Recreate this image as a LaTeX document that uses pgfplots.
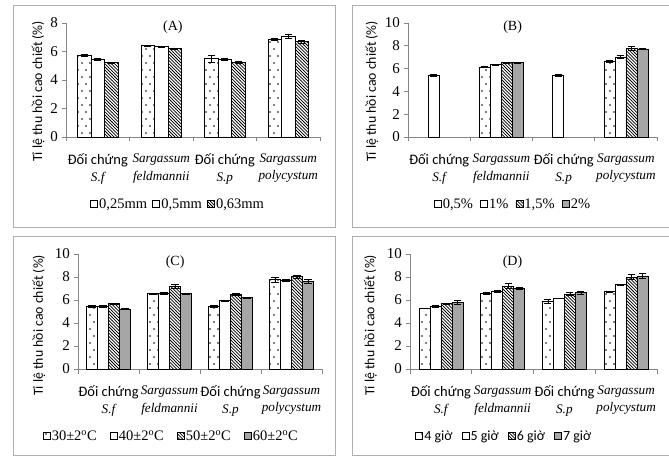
\documentclass[border=0pt]{standalone}
\usepackage{fontspec}
\setmainfont{Liberation Serif}
\newfontfamily\carl{Carlito}
\usepackage{pgfplots}
\pgfplotsset{compat=1.18}
\usetikzlibrary{patterns}

\definecolor{axgray}{RGB}{134,134,134}
\definecolor{bargray}{RGB}{166,166,166}
\definecolor{framegray}{RGB}{175,175,175}

\pgfdeclarepatternformonly{sdots}{\pgfqpoint{-1pt}{-1pt}}{\pgfqpoint{9pt}{15pt}}{\pgfqpoint{8pt}{14pt}}{%
 \pgfpathcircle{\pgfqpoint{2pt}{3pt}}{0.85pt}\pgfpathcircle{\pgfqpoint{6pt}{10pt}}{0.85pt}\pgfusepath{fill}}
\pgfdeclarepatternformonly{hatch}{\pgfqpoint{-1pt}{-1pt}}{\pgfqpoint{4.2pt}{4.2pt}}{\pgfqpoint{3.2pt}{3.2pt}}{%
 \pgfsetlinewidth{0.75pt}\pgfpathmoveto{\pgfqpoint{0pt}{3.2pt}}\pgfpathlineto{\pgfqpoint{3.3pt}{-0.1pt}}\pgfusepath{stroke}}

\newcommand\numf{\fontsize{15}{17}\selectfont}
\newcommand\legf{\fontsize{14.5}{17}\selectfont}
\newcommand\catsf{\carl\fontsize{14.5}{17}\selectfont}
\newcommand\legsf{\carl\fontsize{14}{16}\selectfont}
\newcommand\catit{\itshape\fontsize{13.2}{16}\selectfont}
\newcommand\ylf{\carl\fontsize{13.8}{16}\selectfont}
\newcommand\ttl{\fontsize{14}{16}\selectfont}
\newcommand\degsup{\textsuperscript{o}}

\pgfplotsset{
 panel/.style={
  scale only axis, anchor=south west, clip=false,
  axis lines*=left, xmin=-0.5, xmax=3.5, ymin=0,
  xtick={-0.5,0.5,1.5,2.5,3.5}, xticklabels={},
  major tick length=4.5pt, tick align=outside,
  axis line style={draw=axgray, line width=0.7pt},
  every tick/.style={draw=axgray, line width=0.7pt},
  yticklabel style={font=\numf},
  /pgf/number format/assume math mode=true,
  extra x ticks={0,1,2,3},
  extra x tick labels={{\catsf Đối chứng\\[5pt]\catit S.f},{\catit Sargassum\\[5pt]\catit feldmannii},{\catsf Đối chứng\\[5pt]\catit S.p},{\catit Sargassum\\[5pt]\catit polycystum}},
  extra x tick style={major tick length=0pt, tick label style={align=center, yshift=-13pt}},
  ybar=0pt,
  ylabel={Tỉ lệ thu hồi cao chiết (\%)},
  ylabel style={font=\ylf},
  error bars/y dir=both, error bars/y explicit,
  error bars/error bar style={black, line width=0.6pt},
  error bars/error mark options={rotate=90, black, mark size=3.6pt, line width=0.6pt},
  legend image code/.code={\draw[#1] (0pt,-3.5pt) rectangle (7pt,3.5pt);},
  legend style={draw=none, fill=none, legend columns=-1, anchor=center,
    /tikz/every even column/.append style={column sep=4pt}, nodes={inner sep=1.2pt}},
 },
 s1/.style={draw=black, line width=0.7pt, pattern=sdots},
 s2/.style={draw=black, line width=0.7pt, fill=white},
 s3/.style={draw=black, line width=0.7pt, pattern=hatch},
 s4/.style={draw=black, line width=0.7pt, fill=bargray},
}

\begin{document}
\begin{tikzpicture}
\useasboundingbox (0,0) rectangle (669pt,458pt);
\draw[framegray, line width=0.8pt] (13pt,231pt) rectangle (335pt,453pt);
\draw[framegray, line width=0.8pt] (352pt,231pt) rectangle (674pt,453pt);
\draw[framegray, line width=0.8pt] (13pt,3pt) rectangle (335pt,222pt);
\draw[framegray, line width=0.8pt] (352pt,3pt) rectangle (674pt,222pt);

% ---------------- (A)
\begin{axis}[panel, at={(66pt,321pt)}, width=254pt, height=114pt,
  ymax=8, ytick={0,2,4,6,8}, bar width=13.5pt,
  ylabel style={at={(axis description cs:-0.11,0.40)}, anchor=center},
  legend style={at={(0.44,-0.588)}, font=\legf}]
\addplot[s1] coordinates {(0,5.72) +- (0,0.05) (1,6.42) +- (0,0.04) (2,5.50) +- (0,0.25) (3,6.85) +- (0,0.08)};
\addlegendentry{0,25mm}
\addplot[s2] coordinates {(0,5.45) +- (0,0.08) (1,6.35) +- (0,0.04) (2,5.45) +- (0,0.08) (3,7.08) +- (0,0.15)};
\addlegendentry{0,5mm}
\addplot[s3] coordinates {(0,5.23) +- (0,0.04) (1,6.21) +- (0,0.03) (2,5.23) +- (0,0.06) (3,6.70) +- (0,0.10)};
\addlegendentry{0,63mm}
\node[font=\ttl] at (axis description cs:0.421,0.96) {(A)};
\end{axis}

% ---------------- (B)
\begin{axis}[panel, at={(408pt,321pt)}, width=249pt, height=114pt,
  ymax=10, ytick={0,2,4,6,8,10}, bar width=11pt,
  ylabel style={at={(axis description cs:-0.145,0.40)}, anchor=center},
  legend style={at={(0.42,-0.588)}, font=\legf, /tikz/every even column/.append style={column sep=6pt}}]
\addplot[s1] coordinates {(1,6.12) +- (0,0.04) (3,6.65) +- (0,0.12)};
\addlegendentry{0,5\%}
\addplot[s2] coordinates {(0,5.43) +- (0,0.10) (1,6.33) +- (0,0.04) (2,5.43) +- (0,0.08) (3,7.03) +- (0,0.15)};
\addlegendentry{1\%}
\addplot[s3] coordinates {(1,6.52) +- (0,0.03) (3,7.77) +- (0,0.20)};
\addlegendentry{1,5\%}
\addplot[s4] coordinates {(1,6.52) +- (0,0.04) (3,7.73) +- (0,0.06)};
\addlegendentry{2\%}
\node[font=\ttl] at (axis description cs:0.42,0.96) {(B)};
\end{axis}

% ---------------- (C)
\begin{axis}[panel, at={(78pt,89pt)}, width=244pt, height=115pt,
  ymax=10, ytick={0,2,4,6,8,10}, bar width=11pt,
  ylabel style={at={(axis description cs:-0.16,0.38)}, anchor=center},
  legend style={at={(0.381,-0.583)}, font=\legf, /tikz/every even column/.append style={column sep=12pt}}]
\addplot[s1] coordinates {(0,5.45) +- (0,0.10) (1,6.54) +- (0,0.03) (2,5.45) +- (0,0.08) (3,7.78) +- (0,0.20)};
\addlegendentry{30±2\degsup C}
\addplot[s2] coordinates {(0,5.45) +- (0,0.10) (1,6.60) +- (0,0.10) (2,5.95) +- (0,0.06) (3,7.72) +- (0,0.10)};
\addlegendentry{40±2\degsup C}
\addplot[s3] coordinates {(0,5.68) +- (0,0.05) (1,7.20) +- (0,0.20) (2,6.50) +- (0,0.12) (3,8.02) +- (0,0.15)};
\addlegendentry{50±2\degsup C}
\addplot[s4] coordinates {(0,5.23) +- (0,0.02) (1,6.54) +- (0,0.04) (2,6.22) +- (0,0.03) (3,7.62) +- (0,0.20)};
\addlegendentry{60±2\degsup C}
\node[font=\ttl] at (axis description cs:0.398,0.93) {(C)};
\end{axis}

% ---------------- (D)
\begin{axis}[panel, at={(410pt,89pt)}, width=247pt, height=115pt,
  ymax=10, ytick={0,2,4,6,8,10}, bar width=11pt,
  ylabel style={at={(axis description cs:-0.16,0.38)}, anchor=center},
  legend style={at={(0.38,-0.583)}, font=\legsf, /tikz/every even column/.append style={column sep=8pt}}]
\addplot[s1] coordinates {(0,5.28) +- (0,0.03) (1,6.58) +- (0,0.10) (2,5.87) +- (0,0.20) (3,6.72) +- (0,0.03)};
\addlegendentry{4 giờ}
\addplot[s2] coordinates {(0,5.45) +- (0,0.08) (1,6.73) +- (0,0.08) (2,6.15) +- (0,0.04) (3,7.33) +- (0,0.05)};
\addlegendentry{5 giờ}
\addplot[s3] coordinates {(0,5.68) +- (0,0.04) (1,7.20) +- (0,0.22) (2,6.52) +- (0,0.12) (3,8.00) +- (0,0.20)};
\addlegendentry{6 giờ}
\addplot[s4] coordinates {(0,5.80) +- (0,0.15) (1,7.03) +- (0,0.06) (2,6.65) +- (0,0.12) (3,8.10) +- (0,0.20)};
\addlegendentry{7 giờ}
\node[font=\ttl] at (axis description cs:0.415,0.93) {(D)};
\end{axis}
\end{tikzpicture}
\end{document}
